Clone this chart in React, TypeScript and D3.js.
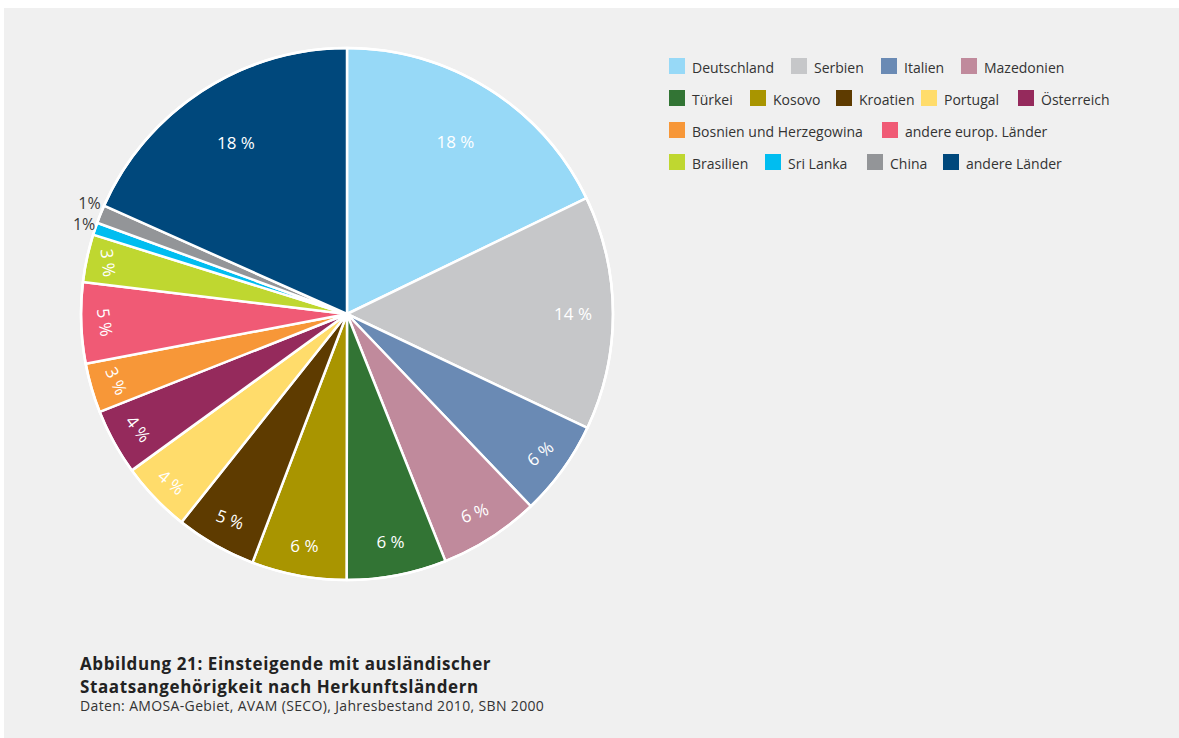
import React from "react";
import * as d3 from "d3";

const categories = [
  "Deutschland", "Serbien", "Italien", "Mazedonien", "Türkei", "Kosovo", "Kroatien",
  "Portugal", "Österreich", "Bosnien und Herzegowina", "andere europ. Länder",
  "Brasilien", "Sri Lanka", "China", "andere Länder",
];
const shares = [17.8, 14.2, 5.8, 6.1, 6.05, 5.75, 4.9, 4.3, 4.0, 3.0, 4.9, 2.9, 0.75, 1.1, 18.3];
const labels = ["18 %", "14 %", "6 %", "6 %", "6 %", "6 %", "5 %", "4 %", "4 %", "3 %", "5 %", "3 %", "1%", "1%", "18 %"];
const colors = [
  "#97d9f7", "#c6c7c9", "#6a8ab4", "#c08a9c", "#327434", "#a99500", "#5e3b00",
  "#ffdc6b", "#952a5c", "#f79738", "#f05a75", "#bfd730", "#00bdf0", "#939598", "#00487c",
];

// layout (not data)
const labelRotate = [0, 0, -40, -20, 0, 0, 20, 40, 52, 65, 82, 84, 0, 0, 0];
const labelRadius = [204, 226, 238, 236, 232, 235, 236, 243, 238, 240, 242, 244, 270, 270, 204];
const outsideLabel = [false, false, false, false, false, false, false, false, false, false, false, false, true, true, false];
const outsideDy = [0, 0, 0, 0, 0, 0, 0, 0, 0, 0, 0, 0, -3, -10, 0];
const legendRows = [0, 0, 0, 0, 1, 1, 1, 1, 1, 2, 2, 3, 3, 3, 3];
const legendX = [669, 791, 881, 961, 669, 750, 836, 921, 1018, 669, 882, 669, 765, 867, 943];

const W = 1179;
const H = 738;
const cx = 347;
const cy = 314;
const R = 266;
const FONT = "'Open Sans', 'DejaVu Sans', sans-serif";

export default function App() {
  const pie = d3.pie<number>().sort(null).value((d) => d).startAngle(0).endAngle(2 * Math.PI);
  const arcs = pie(shares);
  const arcGen = d3.arc<d3.PieArcDatum<number>>().innerRadius(0).outerRadius(R);

  return (
    <svg
      width={W}
      height={H}
      style={{ position: "absolute", left: 0, top: 0 }}
      fontFamily={FONT}
    >
      <rect x={0} y={0} width={W} height={H} fill="#ffffff" />
      <rect x={4} y={8} width={W - 4} height={H - 8} fill="#f0f0f0" />
      <g transform={`translate(${cx},${cy})`}>
        {arcs.map((a, i) => (
          <path key={i} d={arcGen(a) || ""} fill={colors[i]} stroke="#ffffff" strokeWidth={2.5} strokeLinejoin="round" />
        ))}
        <circle r={R} fill="none" stroke="#ffffff" strokeWidth={2.5} />
        {arcs.map((a, i) => {
          const mid = (a.startAngle + a.endAngle) / 2;
          const r = labelRadius[i];
          const x = r * Math.sin(mid);
          const y = -r * Math.cos(mid);
          if (outsideLabel[i]) {
            return (
              <text key={i} x={x + 4} y={y + outsideDy[i]} textAnchor="end" dominantBaseline="central" fontSize={16} fill="#3a3a3a">
                {labels[i]}
              </text>
            );
          }
          return (
            <text
              key={i}
              transform={`translate(${x},${y}) rotate(${labelRotate[i]})`}
              textAnchor="middle"
              dominantBaseline="central"
              fontSize={17}
              fill="#ffffff"
            >
              {labels[i]}
            </text>
          );
        })}
      </g>
      <g>
        {categories.map((c, i) => {
          const yc = 66 + legendRows[i] * 32;
          return (
            <g key={c}>
              <rect x={legendX[i]} y={yc - 8} width={16} height={16} fill={colors[i]} />
              <text x={legendX[i] + 23} y={yc + 1} dominantBaseline="central" fontSize={14} fill="#333333">
                {c}
              </text>
            </g>
          );
        })}
      </g>
      <text x={80} y={670} fontSize={17} fontWeight={700} letterSpacing={0.6} fill="#222222">
        Abbildung 21: Einsteigende mit ausländischer
      </text>
      <text x={80} y={693} fontSize={17} fontWeight={700} letterSpacing={0.6} fill="#222222">
        Staatsangehörigkeit nach Herkunftsländern
      </text>
      <text x={80} y={711} fontSize={14} letterSpacing={0.35} fill="#333333">
        Daten: AMOSA-Gebiet, AVAM (SECO), Jahresbestand 2010, SBN 2000
      </text>
    </svg>
  );
}
